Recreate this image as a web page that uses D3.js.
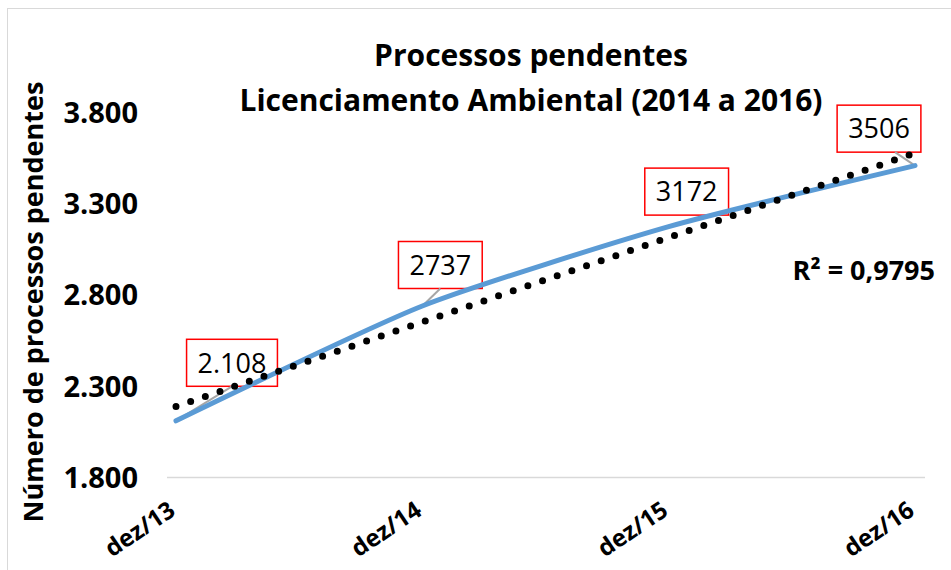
<!DOCTYPE html>
<html>
<head>
<meta charset="utf-8">
<script src="https://cdn.jsdelivr.net/npm/d3@7"></script>
<style>
  body { margin: 0; background: white; }
  text { font-family: "Open Sans", sans-serif; }
</style>
</head>
<body>
<div id="chart"></div>
<script>
// data
let categories = ["dez/13", "dez/14", "dez/15", "dez/16"];
let pendentes = [2108, 2737, 3172, 3506];
let labelTexts = ["2.108", "2737", "3172", "3506"];
let yTicks = [1800, 2300, 2800, 3300, 3800];
let r2Text = "R² = 0,9795";

// where each label box sits relative to its point
let labelOffsets = [[56, -58], [18, -41], [18, -35], [-36, -37]];

let W = 951, H = 570;

let svg = d3.select("#chart")
    .append("svg")
        .attr("width", W)
        .attr("height", H)
;

// chart border
svg.append("rect")
    .attr("x", 7.5).attr("y", 8.5)
    .attr("width", W + 10).attr("height", H + 10)
    .attr("fill", "white")
    .attr("stroke", "#d9d9d9")
;

let x = d3.scalePoint().domain(categories).range([176, 915]);
let y = d3.scaleLinear().domain([1800, 3800]).range([477, 112]);

// titles
svg.append("text")
    .attr("x", 531).attr("y", 66)
    .attr("text-anchor", "middle")
    .style("font-size", "30px").style("font-weight", "bold")
    .text("Processos pendentes");
svg.append("text")
    .attr("x", 531).attr("y", 111)
    .attr("text-anchor", "middle")
    .style("font-size", "30px").style("font-weight", "bold")
    .text("Licenciamento Ambiental (2014 a 2016)");

svg.append("text")
    .attr("transform", "translate(43,302) rotate(-90)")
    .attr("text-anchor", "middle")
    .style("font-size", "27px").style("font-weight", "bold")
    .text("Número de processos pendentes");

// y axis, labels only
let yAxis = d3.axisLeft(y)
    .tickValues(yTicks)
    .tickSize(0)
    .tickPadding(0)
    .tickFormat(d => d3.format(",")(d).replace(",", "."));
let yg = svg.append("g").attr("transform", "translate(138,0)").call(yAxis);
yg.select(".domain").remove();
yg.selectAll("text")
    .style("font-size", "29px").style("font-weight", "bold")
    .style("font-family", "'Open Sans', sans-serif")
    .attr("fill", "black")
    .attr("dy", "0.36em");

// x axis line
svg.append("line")
    .attr("x1", 167).attr("x2", 925)
    .attr("y1", y(1800) + 0.5).attr("y2", y(1800) + 0.5)
    .attr("stroke", "#d9d9d9").attr("stroke-width", 1.5);

// x labels rotated
svg.selectAll(".xlab").data(categories).enter().append("text")
    .attr("class", "xlab")
    .attr("transform", d => "translate(" + (x(d) + 1) + ",514) rotate(-34)")
    .attr("text-anchor", "end")
    .style("font-size", "24px").style("font-weight", "bold")
    .text(d => d);

// data labels
let pts = categories.map((c, i) => ({ cx: x(c), cy: y(pendentes[i]), t: labelTexts[i], off: labelOffsets[i] }));

let labs = svg.selectAll(".lab").data(pts).enter().append("g")
    .attr("class", "lab")
    .attr("transform", d => "translate(" + (d.cx + d.off[0]) + "," + (d.cy + d.off[1]) + ")");

labs.each(function (d) {
    let g = d3.select(this);
    let t = g.append("text")
        .attr("text-anchor", "middle")
        .attr("dy", "0.36em")
        .style("font-size", "27px")
        .text(d.t);
    let bb = t.node().getBBox();
    let w = bb.width + 22, h = 47;
    g.insert("rect", "text")
        .attr("x", -w / 2).attr("y", -h / 2)
        .attr("width", w).attr("height", h)
        .attr("fill", "none")
        .attr("stroke", "#ff0000").attr("stroke-width", 1.5);
    d.w = w; d.h = h;
});

// leader lines from box bottom to point (skipped when the box is close)
svg.selectAll(".leader").data(pts.filter(d => -d.off[1] - d.h / 2 > 12)).enter().append("line")
    .attr("class", "leader")
    .attr("x1", d => d.cx).attr("y1", d => d.cy)
    .attr("x2", d => d.cx + d.off[0] + (d.off[0] < 0 ? 16 : 0))
    .attr("y2", d => d.cy + d.off[1] + d.h / 2)
    .attr("stroke", "#a6a6a6").attr("stroke-width", 2);

// series line
let line = d3.line()
    .x((d, i) => x(categories[i]))
    .y(d => y(d))
    .curve(d3.curveCardinal.tension(0.4));

svg.append("path")
    .datum(pendentes)
    .attr("d", line)
    .attr("fill", "none")
    .attr("stroke", "#5b9bd5")
    .attr("stroke-width", 5)
    .attr("stroke-linecap", "round");

// linear trend line
let n = pendentes.length;
let mx = d3.mean(pendentes, (d, i) => i), my = d3.mean(pendentes);
let slope = d3.sum(pendentes, (d, i) => (i - mx) * (d - my)) / d3.sum(pendentes, (d, i) => (i - mx) * (i - mx));
let icpt = my - slope * mx;

svg.append("line")
    .attr("x1", x(categories[0])).attr("y1", y(icpt))
    .attr("x2", x(categories[n - 1])).attr("y2", y(icpt + slope * (n - 1)))
    .attr("stroke", "black")
    .attr("stroke-width", 7)
    .attr("stroke-linecap", "round")
    .attr("stroke-dasharray", "0,15.5");

svg.append("text")
    .attr("x", 935).attr("y", 280)
    .attr("text-anchor", "end")
    .style("font-size", "27px").style("font-weight", "bold")
    .text(r2Text);
</script>
</body>
</html>
